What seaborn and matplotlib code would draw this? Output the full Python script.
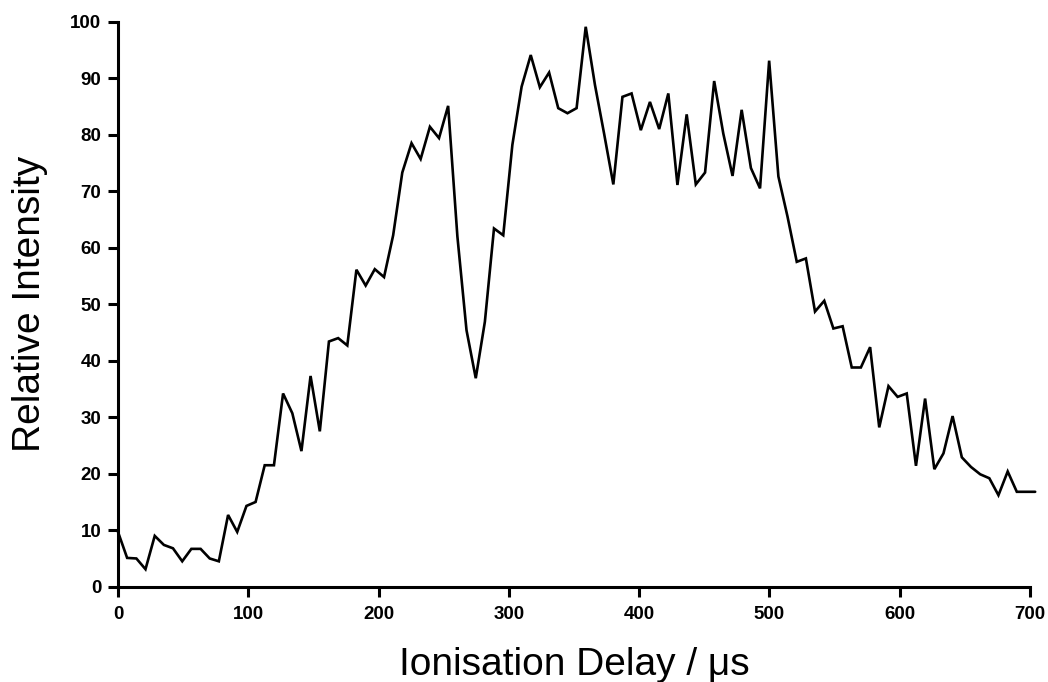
import matplotlib
matplotlib.use("Agg")
import matplotlib.pyplot as plt
import seaborn as sns
import pandas as pd

delay_us = [0.0, 7.0, 14.1, 21.1, 28.2, 35.2, 42.2, 49.3, 56.3, 63.4, 70.4, 77.4, 84.5, 91.5, 98.6, 105.6, 112.6,
            119.7, 126.7, 133.8, 140.8, 147.8, 154.9, 161.9, 169.0, 176.0, 183.0, 190.1, 197.1, 204.2, 211.2, 218.2,
            225.3, 232.3, 239.4, 246.4, 253.4, 260.5, 267.5, 274.6, 281.6, 288.6, 295.7, 302.7, 309.8, 316.8, 323.8,
            330.9, 337.9, 345.0, 352.0, 359.0, 366.1, 373.1, 380.2, 387.2, 394.2, 401.3, 408.3, 415.4, 422.4, 429.4,
            436.5, 443.5, 450.6, 457.6, 464.6, 471.7, 478.7, 485.8, 492.8, 499.8, 506.9, 513.9, 521.0, 528.0, 535.0,
            542.1, 549.1, 556.2, 563.2, 570.2, 577.3, 584.3, 591.4, 598.4, 605.4, 612.5, 619.5, 626.6, 633.6, 640.6,
            647.7, 654.7, 661.8, 668.8, 675.8, 682.9, 689.9, 697.0, 704.0]
intensity = [9.7, 5.1, 5.0, 3.1, 9.0, 7.4, 6.8, 4.5, 6.7, 6.7, 5.0, 4.5, 12.7, 9.7, 14.3, 15.0, 21.5, 21.5, 34.2, 30.7,
             24.0, 37.3, 27.5, 43.4, 44.0, 42.7, 56.1, 53.3, 56.2, 54.8, 62.2, 73.3, 78.5, 75.7, 81.4, 79.4, 85.1, 62.0, 45.4, 36.9,
             46.9, 63.4, 62.2, 78.2, 88.5, 94.1, 88.4, 91.0, 84.7, 83.8, 84.7, 99.1, 88.8, 80.2, 71.2, 86.7, 87.3, 80.8, 85.8, 81.0,
             87.3, 71.1, 83.6, 71.2, 73.3, 89.5, 80.2, 72.7, 84.4, 74.1, 70.5, 93.1, 72.6, 65.5, 57.5, 58.1, 48.7, 50.6, 45.7, 46.1,
             38.8, 38.8, 42.4, 28.2, 35.5, 33.6, 34.2, 21.4, 33.3, 20.8, 23.6, 30.2, 22.9, 21.2, 19.9, 19.2, 16.2, 20.4, 16.8, 16.8, 16.8]
x_ticks = [0, 100, 200, 300, 400, 500, 600, 700]
y_ticks = [0, 10, 20, 30, 40, 50, 60, 70, 80, 90, 100]
x_label = "Ionisation Delay / μs"
y_label = "Relative Intensity"

sns.set_style("ticks")
plt.rcParams['font.family'] = ['Liberation Sans', 'DejaVu Sans']

df = pd.DataFrame({"delay": delay_us, "intensity": intensity})

fig = plt.figure(figsize=(10.48, 6.82), dpi=100)
ax = fig.add_axes([0.1126, 0.1397, 0.8702, 0.8285])
sns.lineplot(data=df, x="delay", y="intensity", ax=ax, color="black",
             linewidth=1.9, estimator=None, sort=False)
ax.set_xlim(0, 700)
ax.set_ylim(0, 100)
ax.set_xticks(x_ticks)
ax.set_yticks(y_ticks)
ax.set_xticklabels([str(t) for t in x_ticks], fontsize=13.5, fontweight="bold")
ax.set_yticklabels([str(t) for t in y_ticks], fontsize=13.5, fontweight="bold")
for s in ["top", "right"]:
    ax.spines[s].set_visible(False)
for s in ["left", "bottom"]:
    ax.spines[s].set_linewidth(2.2)
    ax.spines[s].set_color("black")
ax.tick_params(axis="x", length=7, width=2.2, color="black", direction="out", pad=7, labelcolor="black")
ax.tick_params(axis="y", length=7, width=2.2, color="black", direction="out", pad=5, labelcolor="black")
ax.set_xlabel(x_label, fontsize=28, labelpad=17, color="black")
ax.set_ylabel(y_label, fontsize=28, labelpad=16, color="black")
for line in ax.get_lines():
    line.set_clip_on(False)
    line.set_solid_joinstyle("miter")

fig.savefig("out.png", dpi=100, facecolor="white")
